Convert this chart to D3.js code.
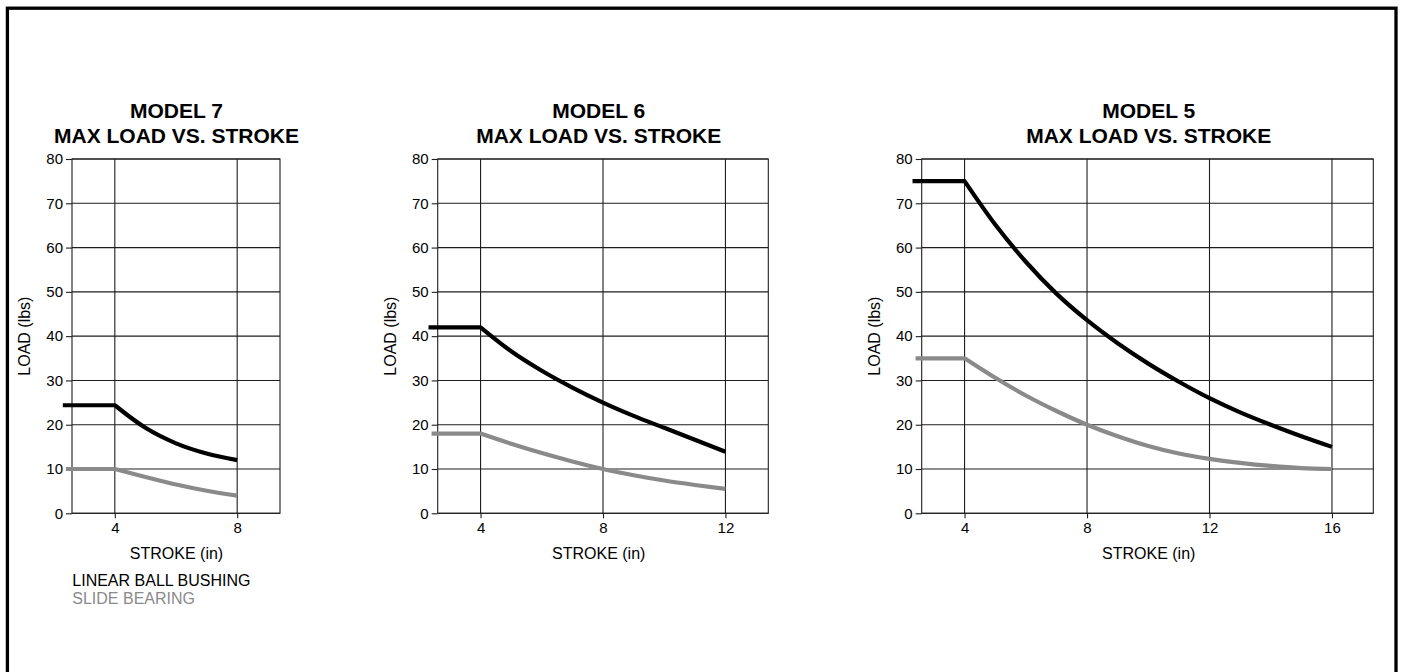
<!DOCTYPE html>
<html>
<head>
<meta charset="utf-8">
<script src="https://cdn.jsdelivr.net/npm/d3@7/dist/d3.min.js"></script>
<style>
  html, body { margin: 0; padding: 0; background: #fff; }
  svg { display: block; }
  text { font-family: "Liberation Sans", Arial, Helvetica, sans-serif; }
</style>
</head>
<body>
<svg id="chart" width="1401" height="672"></svg>
<script>
// ---------- DATA ----------
const modelTitles = ["MODEL 7", "MODEL 6", "MODEL 5"];
const subTitle = "MAX LOAD VS. STROKE";
const xAxisLabel = "STROKE (in)";
const yAxisLabel = "LOAD (lbs)";
const seriesNames = ["LINEAR BALL BUSHING", "SLIDE BEARING"];
const yTicks = [0, 10, 20, 30, 40, 50, 60, 70, 80];

const xTicks7 = [4, 8];
const xTicks6 = [4, 8, 12];
const xTicks5 = [4, 8, 12, 16];

// Model 7
const ballStroke7 = [2.3, 4, 5, 6, 7, 8];
const ballLoad7   = [24.4, 24.4, 19.3, 15.8, 13.5, 12.0];
const slideStroke7 = [2.4, 4, 5, 6, 7, 8];
const slideLoad7   = [10, 10, 8.2, 6.5, 5.1, 4.0];

// Model 6
const ballStroke6 = [2.3, 4, 5, 6, 7, 8, 9, 10, 11, 12];
const ballLoad6   = [42, 42, 36.6, 32.2, 28.4, 25.0, 22.0, 19.3, 16.6, 13.9];
const slideStroke6 = [2.4, 4, 5, 6, 7, 8, 9, 10, 11, 12];
const slideLoad6   = [18, 18, 15.7, 13.6, 11.7, 10.0, 8.6, 7.4, 6.4, 5.5];

// Model 5
const ballStroke5 = [2.3, 4, 5, 6, 7, 8, 9, 10, 11, 12, 13, 14, 15, 16];
const ballLoad5   = [75, 75, 65.2, 56.8, 49.6, 43.6, 38.4, 33.8, 29.7, 26.0, 22.8, 20.0, 17.4, 15.0];
const slideStroke5 = [2.4, 4, 5, 6, 7, 8, 9, 10, 11, 12, 13, 14, 15, 16];
const slideLoad5   = [35, 35, 30.6, 26.6, 23.1, 20.0, 17.4, 15.2, 13.5, 12.3, 11.4, 10.7, 10.2, 10.0];

const xDomains = [[2.6, 9.4], [2.6, 13.4], [2.6, 17.35]];

// ---------- LAYOUT ----------
const panels = [
  { left: 72,    right: 280,    cx: 176.5,  xTicks: xTicks7, ball: [ballStroke7, ballLoad7], slide: [slideStroke7, slideLoad7] },
  { left: 437.7, right: 768.3,  cx: 598.7,  xTicks: xTicks6, ball: [ballStroke6, ballLoad6], slide: [slideStroke6, slideLoad6] },
  { left: 921.7, right: 1373.3, cx: 1148.7, xTicks: xTicks5, ball: [ballStroke5, ballLoad5], slide: [slideStroke5, slideLoad5] }
];
const plotTop = 159, plotBottom = 513.3;
const colors = ["#000000", "#8a8a8a"];
const gridColor = "#1e1e1e";

const svg = d3.select("#chart");

// outer frame (bottom edge falls outside the picture)
svg.append("rect")
  .attr("x", 7.4).attr("y", 8.2)
  .attr("width", 1388.6).attr("height", 700)
  .attr("fill", "none").attr("stroke", "#000").attr("stroke-width", 3.3);

panels.forEach((p, i) => {
  const x = d3.scaleLinear().domain(xDomains[i]).range([p.left, p.right]);
  const y = d3.scaleLinear().domain([0, 80]).range([plotBottom, plotTop]);
  const g = svg.append("g");

  // titles
  g.append("text").attr("x", p.cx).attr("y", 118.3)
    .attr("text-anchor", "middle").attr("font-size", 21).attr("font-weight", "bold")
    .text(modelTitles[i]);
  g.append("text").attr("x", p.cx).attr("y", 143.3)
    .attr("text-anchor", "middle").attr("font-size", 21).attr("font-weight", "bold")
    .text(subTitle);

  // grid
  g.append("g").selectAll("line").data(yTicks).join("line")
    .attr("x1", p.left).attr("x2", p.right)
    .attr("y1", d => y(d)).attr("y2", d => y(d))
    .attr("stroke", gridColor).attr("stroke-width", 1.1);
  g.append("g").selectAll("line").data(p.xTicks).join("line")
    .attr("x1", d => x(d)).attr("x2", d => x(d))
    .attr("y1", plotTop).attr("y2", plotBottom)
    .attr("stroke", gridColor).attr("stroke-width", 1.1);

  // frame
  g.append("rect").attr("x", p.left).attr("y", plotTop)
    .attr("width", p.right - p.left).attr("height", plotBottom - plotTop)
    .attr("fill", "none").attr("stroke", gridColor).attr("stroke-width", 1.1);

  // axes
  const yAxis = d3.axisLeft(y).tickValues(yTicks).tickFormat(d3.format("d")).tickSize(6).tickPadding(3);
  const xAxis = d3.axisBottom(x).tickValues(p.xTicks).tickFormat(d3.format("d")).tickSize(5).tickPadding(4);
  const ya = g.append("g").attr("transform", `translate(${p.left},0)`).call(yAxis);
  const xa = g.append("g").attr("transform", `translate(0,${plotBottom})`).call(xAxis);
  [ya, xa].forEach(a => {
    a.attr("font-size", 15).attr("font-family", '"Liberation Sans", Arial, Helvetica, sans-serif');
    a.select(".domain").remove();
    a.selectAll("line").attr("stroke", gridColor).attr("stroke-width", 1.1);
    a.selectAll("text").attr("fill", "#000");
  });

  // axis labels
  g.append("text").attr("x", p.cx).attr("y", 559.3)
    .attr("text-anchor", "middle").attr("font-size", 16).text(xAxisLabel);
  g.append("text")
    .attr("transform", `translate(${p.left - 42},${(plotTop + plotBottom) / 2}) rotate(-90)`)
    .attr("text-anchor", "middle").attr("font-size", 16).text(yAxisLabel);

  // series: straight flat part then smooth curve
  const flat = d3.line().x(d => x(d[0])).y(d => y(d[1]));
  const curve = d3.line().x(d => x(d[0])).y(d => y(d[1])).curve(d3.curveMonotoneX);
  [p.slide, p.ball].forEach((s, k) => {
    const pts = s[0].map((v, j) => [v, s[1][j]]);
    const d = flat(pts.slice(0, 2)) + curve(pts.slice(1)).replace(/^M/, "L");
    g.append("path").attr("d", d)
      .attr("fill", "none")
      .attr("stroke", colors[1 - k])
      .attr("stroke-width", 4.2)
      .attr("stroke-linejoin", "round");
  });
});

// legend
svg.append("g").selectAll("text").data(seriesNames).join("text")
  .attr("x", 72.3).attr("y", (d, i) => 586 + i * 18.3)
  .attr("font-size", 16).attr("fill", (d, i) => colors[i])
  .text(d => d);
</script>
</body>
</html>
